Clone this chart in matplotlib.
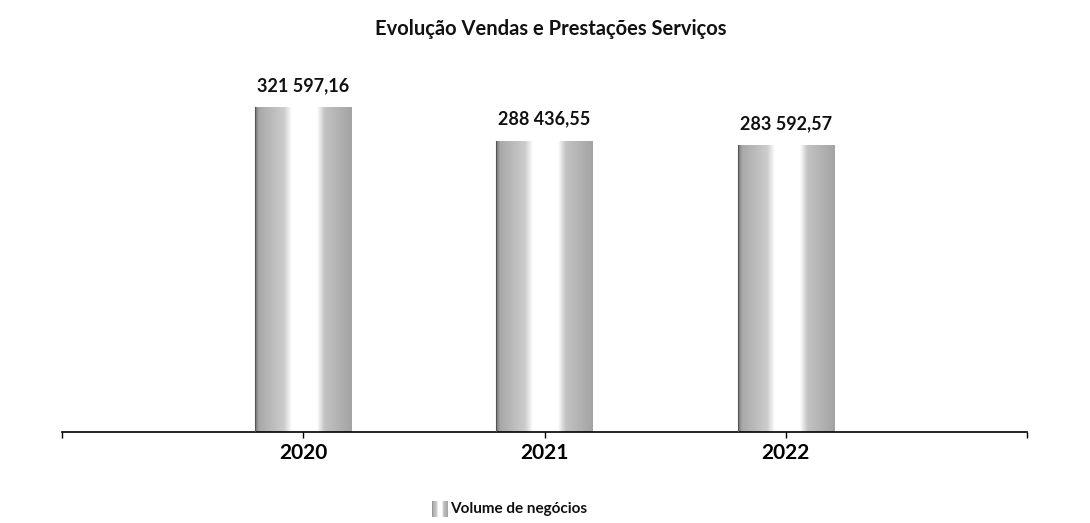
import matplotlib.pyplot as plt
import numpy as np

# --- data ---
years = ['2020', '2021', '2022']
volume = [321597.16, 288436.55, 283592.57]
title = 'Evolução Vendas e Prestações Serviços'
legend_label = 'Volume de negócios'

FONT = 'Lato'
BAR_W = 0.4

def fmt_pt(v):
    s = f'{v:,.2f}'
    return s.replace(',', ' ').replace('.', ',')

# horizontal cylinder-like shading of each bar
t = np.linspace(0, 1, 200)
shade = np.interp(t, [0, 0.04, 0.3, 0.38, 0.64, 0.72, 1.0],
                  [0.45, 0.66, 0.8, 1.0, 1.0, 0.76, 0.64])
grad = shade[np.newaxis, :]

fig = plt.figure(figsize=(10.9, 5.23), dpi=100, facecolor='white')
ax = fig.add_axes([0.0569, 0.174, 0.8853, 0.711])

x = np.arange(len(years))
bars = ax.bar(x, volume, width=BAR_W, color='none', edgecolor='none', zorder=2)
for b in bars:
    x0, w, h = b.get_x(), b.get_width(), b.get_height()
    im = ax.imshow(grad, extent=[x0, x0 + w, 0, h], aspect='auto',
                   cmap='gray', vmin=0, vmax=1, interpolation='bilinear', zorder=2)
    im.set_clip_path(b)
    # dark left edge
    ax.plot([x0, x0], [0, h], color='#555555', lw=0.8, zorder=3)

for xi, v in zip(x, volume):
    ax.text(xi, v + 13000, fmt_pt(v), ha='center', va='bottom',
            fontsize=13, fontweight='bold', family=FONT, color='#111111')

ax.set_xlim(-1, 3)
ax.set_ylim(0, 368000)
ax.set_xticks([-1, 0, 1, 2, 3])
ax.set_xticklabels(['', *years, ''], fontsize=15, fontweight='bold', family=FONT)
ax.tick_params(axis='x', length=4, width=1, pad=4, color='black')
ax.set_yticks([])
for side in ['left', 'right', 'top']:
    ax.spines[side].set_visible(False)
ax.spines['bottom'].set_linewidth(1.2)

fig.text(0.505, 0.944, title, ha='center', va='center', fontsize=14.5,
         fontweight='bold', family=FONT, color='#111111')

# legend: small shaded swatch + label
lax = fig.add_axes([0.396, 0.012, 0.014, 0.03])
lax.imshow(grad, extent=[0, 1, 0, 1], aspect='auto', cmap='gray',
           vmin=0, vmax=1, interpolation='bilinear')
lax.set_axis_off()
fig.text(0.413, 0.027, legend_label, ha='left', va='center', fontsize=11,
         fontweight='bold', family=FONT, color='#111111')

fig.savefig('out.png', dpi=100, facecolor='white')
